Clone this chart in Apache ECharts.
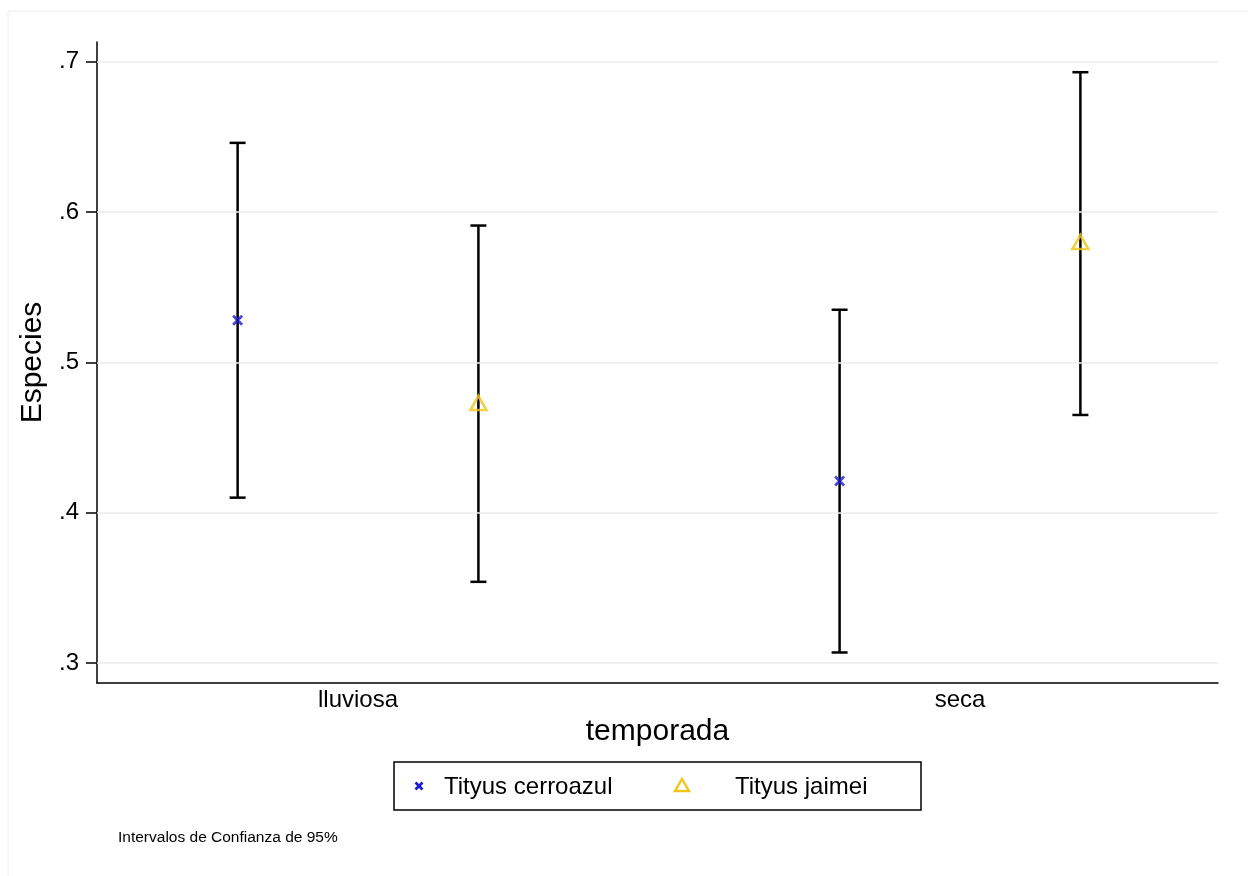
<!DOCTYPE html>
<html>
<head>
<meta charset="utf-8">
<script src="https://cdn.jsdelivr.net/npm/echarts@6/dist/echarts.min.js"></script>
<style>html,body{margin:0;padding:0;background:#fff}#c{width:1248px;height:876px}</style>
</head>
<body>
<div id="c"></div>
<script>
// ---- data ----
const categories = ['lluviosa', 'seca'];
const seriesNames = ['Tityus cerroazul', 'Tityus jaimei'];
const cerroazulMean = [0.528, 0.421];
const cerroazulLow  = [0.410, 0.307];
const cerroazulHigh = [0.646, 0.535];
const jaimeiMean = [0.473, 0.580];
const jaimeiLow  = [0.354, 0.465];
const jaimeiHigh = [0.591, 0.693];
const yTicks = [0.3, 0.4, 0.5, 0.6, 0.7];

// ---- layout ----
const offset = 0.2;
const FONT = '"Liberation Sans", Arial, Helvetica, sans-serif';
const BLUE = '#1a1ad0';
const YELLOW = '#efc51c';

const xC = categories.map((c, i) => i + 1 - offset);
const xJ = categories.map((c, i) => i + 1 + offset);

function errData(xs, lo, hi) { return xs.map((x, i) => [x, lo[i], hi[i]]); }

function renderErr(params, api) {
  const x = api.value(0), lo = api.value(1), hi = api.value(2);
  const pLo = api.coord([x, lo]), pHi = api.coord([x, hi]);
  const cap = 8;
  const style = { stroke: '#000', lineWidth: 2.5 };
  return {
    type: 'group',
    children: [
      { type: 'line', shape: { x1: pLo[0], y1: pLo[1], x2: pHi[0], y2: pHi[1] }, style },
      { type: 'line', shape: { x1: pLo[0] - cap, y1: pLo[1], x2: pLo[0] + cap, y2: pLo[1] }, style },
      { type: 'line', shape: { x1: pHi[0] - cap, y1: pHi[1], x2: pHi[0] + cap, y2: pHi[1] }, style }
    ]
  };
}

const chart = echarts.init(document.getElementById('c'), null, { renderer: 'canvas' });
chart.setOption({
  backgroundColor: '#fff',
  animation: false,
  grid: { left: 97, right: 30, top: 42, bottom: 193, containLabel: false },
  xAxis: {
    type: 'value', min: 0.5664, max: 2.4286,
    name: 'temporada', nameLocation: 'middle', nameGap: 33,
    nameTextStyle: { fontFamily: FONT, fontSize: 30, color: '#000' },
    axisLine: { show: true, lineStyle: { color: '#000', width: 1.5 } },
    axisTick: { show: false },
    splitLine: { show: false },
    axisLabel: {
      customValues: categories.map((c, i) => i + 1),
      formatter: v => categories[Math.round(v) - 1] || '',
      fontFamily: FONT, fontSize: 24, color: '#000', margin: 5
    }
  },
  yAxis: {
    type: 'value', min: 0.2867, max: 0.7131,
    name: 'Especies', nameLocation: 'middle', nameGap: 47, nameRotate: 90,
    nameTextStyle: { fontFamily: FONT, fontSize: 30, color: '#000' },
    axisLine: { show: true, lineStyle: { color: '#000', width: 1.5 } },
    axisTick: { show: true, customValues: yTicks, length: 11, lineStyle: { color: '#000', width: 1.5 } },
    splitLine: { show: false },
    axisLabel: {
      customValues: yTicks,
      formatter: v => v.toFixed(1).replace(/^0/, ''),
      fontFamily: FONT, fontSize: 24, color: '#000', margin: 18
    }
  },
  series: [
    {
      type: 'custom', name: 'ci_c', renderItem: renderErr, z: 2,
      data: errData(xC, cerroazulLow, cerroazulHigh), silent: true,
      markLine: {
        silent: true, symbol: 'none', label: { show: false },
        lineStyle: { color: '#ebebeb', width: 1.5, type: 'solid' },
        data: yTicks.map(v => ({ yAxis: v }))
      }
    },
    {
      type: 'custom', name: 'ci_j', renderItem: renderErr, z: 2,
      data: errData(xJ, jaimeiLow, jaimeiHigh), silent: true
    },
    {
      type: 'scatter', name: seriesNames[0], z: 5,
      symbol: 'path://M0,0L10,10M10,0L0,10', symbolSize: 9,
      itemStyle: { color: 'none', borderColor: BLUE, borderWidth: 2.8 },
      data: xC.map((x, i) => [x, cerroazulMean[i]])
    },
    {
      type: 'scatter', name: seriesNames[1], z: 5,
      symbol: 'triangle', symbolSize: [16, 14],
      itemStyle: { color: 'rgba(0,0,0,0)', borderColor: YELLOW, borderWidth: 2.6 },
      data: xJ.map((x, i) => [x, jaimeiMean[i]])
    }
  ],
  graphic: [
    { type: 'rect', shape: { x: 8, y: 11, width: 1260, height: 900 }, style: { fill: 'none', stroke: '#eeeeee', lineWidth: 1 }, z: -10, silent: true },
    { type: 'rect', shape: { x: 394, y: 762, width: 527, height: 48 }, style: { fill: '#fff', stroke: '#000', lineWidth: 1.5 }, z: 10 },
    { type: 'line', shape: { x1: 415.5, y1: 782.5, x2: 422.5, y2: 789.5 }, style: { stroke: BLUE, lineWidth: 2.6 }, z: 11 },
    { type: 'line', shape: { x1: 422.5, y1: 782.5, x2: 415.5, y2: 789.5 }, style: { stroke: BLUE, lineWidth: 2.6 }, z: 11 },
    { type: 'text', x: 444, y: 787, style: { text: seriesNames[0], fontFamily: FONT, fontSize: 24, fill: '#000', verticalAlign: 'middle', align: 'left' }, z: 11 },
    { type: 'polygon', shape: { points: [[682, 779], [689, 791], [675, 791]] }, style: { fill: 'none', stroke: YELLOW, lineWidth: 2.4 }, z: 11 },
    { type: 'text', x: 735, y: 787, style: { text: seriesNames[1], fontFamily: FONT, fontSize: 24, fill: '#000', verticalAlign: 'middle', align: 'left' }, z: 11 },
    { type: 'text', x: 118, y: 838, style: { text: 'Intervalos de Confianza de 95%', fontFamily: FONT, fontSize: 15.5, fill: '#000', verticalAlign: 'middle', align: 'left' }, z: 11 }
  ]
});
</script>
</body>
</html>
